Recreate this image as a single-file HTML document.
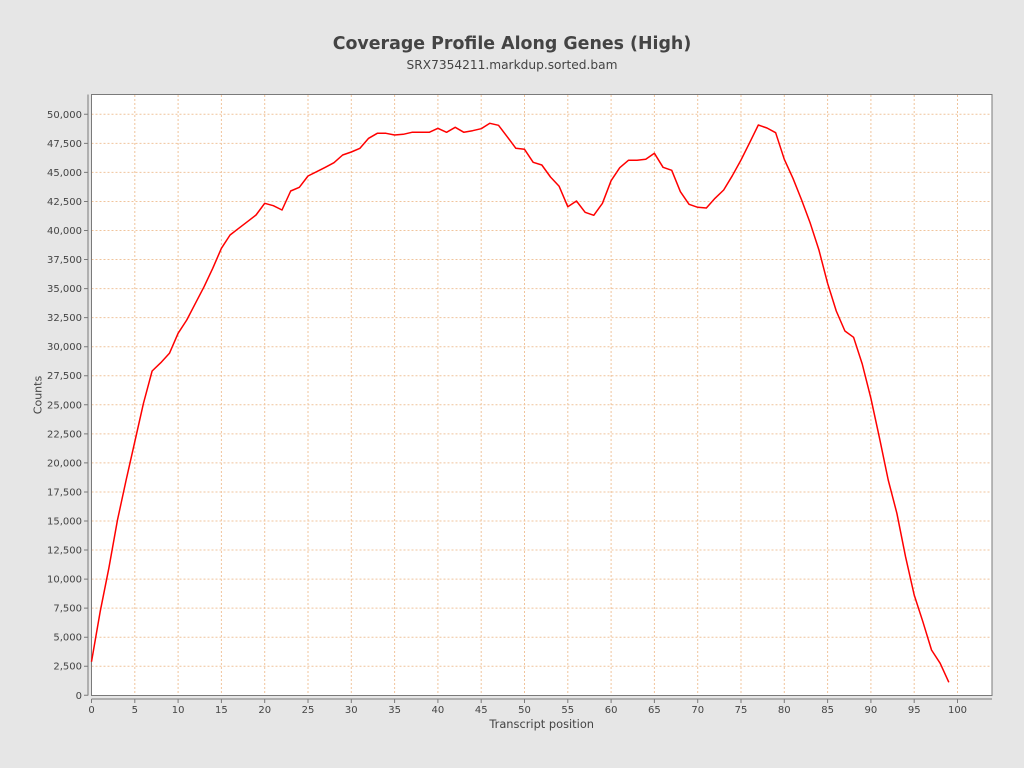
<!DOCTYPE html>
<html><head><meta charset="utf-8"><style>
html,body{margin:0;padding:0;background:#e6e6e6;}
svg{display:block;font-family:"DejaVu Sans","Liberation Sans",sans-serif;}
</style></head><body>
<svg width="1024" height="768" viewBox="0 0 1024 768" xmlns="http://www.w3.org/2000/svg">
<rect x="0" y="0" width="1024" height="768" fill="#e6e6e6"/>
<text x="512" y="49" text-anchor="middle" font-size="17.4" font-weight="bold" fill="#444">Coverage Profile Along Genes (High)</text>
<text x="512" y="69" text-anchor="middle" font-size="12.2" fill="#444">SRX7354211.markdup.sorted.bam</text>
<rect x="91.5" y="94.5" width="900.5" height="601" fill="#ffffff"/>
<g stroke="#f0c49c" stroke-width="1" stroke-dasharray="2,2" fill="none">
<path d="M91.5 666.25H992M91.5 637.2H992M91.5 608.15H992M91.5 579.1H992M91.5 550.05H992M91.5 521H992M91.5 491.95H992M91.5 462.9H992M91.5 433.85H992M91.5 404.8H992M91.5 375.75H992M91.5 346.7H992M91.5 317.65H992M91.5 288.6H992M91.5 259.55H992M91.5 230.5H992M91.5 201.45H992M91.5 172.4H992M91.5 143.35H992M91.5 114.3H992"/>
<path d="M134.8 95V695M178.1 95V695M221.4 95V695M264.7 95V695M308 95V695M351.3 95V695M394.6 95V695M437.9 95V695M481.2 95V695M524.5 95V695M567.8 95V695M611.1 95V695M654.4 95V695M697.7 95V695M741 95V695M784.3 95V695M827.6 95V695M870.9 95V695M914.2 95V695M957.5 95V695"/>
</g>
<rect x="91.5" y="94.5" width="900.5" height="601" fill="none" stroke="#7a7a7a" stroke-width="1"/>
<g stroke="#7a7a7a" stroke-width="1">
<line x1="88" y1="94.5" x2="88" y2="695.5"/>
<line x1="91.5" y1="699" x2="992" y2="699"/>
</g>
<g stroke="#7a7a7a" stroke-width="1">
<path d="M84 695.3H88M84 666.25H88M84 637.2H88M84 608.15H88M84 579.1H88M84 550.05H88M84 521H88M84 491.95H88M84 462.9H88M84 433.85H88M84 404.8H88M84 375.75H88M84 346.7H88M84 317.65H88M84 288.6H88M84 259.55H88M84 230.5H88M84 201.45H88M84 172.4H88M84 143.35H88M84 114.3H88"/>
<path d="M91.5 699V703M134.8 699V703M178.1 699V703M221.4 699V703M264.7 699V703M308 699V703M351.3 699V703M394.6 699V703M437.9 699V703M481.2 699V703M524.5 699V703M567.8 699V703M611.1 699V703M654.4 699V703M697.7 699V703M741 699V703M784.3 699V703M827.6 699V703M870.9 699V703M914.2 699V703M957.5 699V703"/>
</g>
<g font-size="10" fill="#444" text-anchor="end">
<text x="82" y="698.8">0</text>
<text x="82" y="669.7">2,500</text>
<text x="82" y="640.7">5,000</text>
<text x="82" y="611.6">7,500</text>
<text x="82" y="582.6">10,000</text>
<text x="82" y="553.5">12,500</text>
<text x="82" y="524.5">15,000</text>
<text x="82" y="495.4">17,500</text>
<text x="82" y="466.4">20,000</text>
<text x="82" y="437.3">22,500</text>
<text x="82" y="408.3">25,000</text>
<text x="82" y="379.2">27,500</text>
<text x="82" y="350.2">30,000</text>
<text x="82" y="321.1">32,500</text>
<text x="82" y="292.1">35,000</text>
<text x="82" y="263">37,500</text>
<text x="82" y="234">40,000</text>
<text x="82" y="204.9">42,500</text>
<text x="82" y="175.9">45,000</text>
<text x="82" y="146.8">47,500</text>
<text x="82" y="117.8">50,000</text>
</g>
<g font-size="10" fill="#444" text-anchor="middle">
<text x="91.5" y="713">0</text>
<text x="134.8" y="713">5</text>
<text x="178.1" y="713">10</text>
<text x="221.4" y="713">15</text>
<text x="264.7" y="713">20</text>
<text x="308" y="713">25</text>
<text x="351.3" y="713">30</text>
<text x="394.6" y="713">35</text>
<text x="437.9" y="713">40</text>
<text x="481.2" y="713">45</text>
<text x="524.5" y="713">50</text>
<text x="567.8" y="713">55</text>
<text x="611.1" y="713">60</text>
<text x="654.4" y="713">65</text>
<text x="697.7" y="713">70</text>
<text x="741" y="713">75</text>
<text x="784.3" y="713">80</text>
<text x="827.6" y="713">85</text>
<text x="870.9" y="713">90</text>
<text x="914.2" y="713">95</text>
<text x="957.5" y="713">100</text>
</g>
<text x="541.7" y="728" text-anchor="middle" font-size="11.4" fill="#444">Transcript position</text>
<text transform="translate(41.5,395) rotate(-90)" text-anchor="middle" font-size="11" fill="#444">Counts</text>
<polyline fill="none" stroke="#ff0000" stroke-width="1.5" stroke-linejoin="round" points="91.5,661.7 100.16,611.7 108.82,568.3 117.48,520 126.14,480 134.8,441.7 143.46,403.3 152.12,371 160.78,362.7 169.44,353.3 178.1,333.3 186.76,320 195.42,303.3 204.08,286.7 212.74,268.3 221.4,248.3 230.06,235 238.72,228.3 247.38,221.7 256.04,215 264.7,203.3 273.36,205.7 282.02,210 290.68,191 299.34,187.3 308,176 316.66,171.7 325.32,167.3 333.98,162.7 342.64,155 351.3,152 359.96,148.3 368.62,138.3 377.28,133.3 385.94,133.3 394.6,135 403.26,134.3 411.92,132.3 420.58,132.3 429.24,132.3 437.9,128.3 446.56,132.3 455.22,127.3 463.88,132.3 472.54,130.7 481.2,128.7 489.86,123.3 498.52,125.3 507.18,136.7 515.84,148.3 524.5,149.3 533.16,162.3 541.82,165 550.48,177 559.14,186.3 567.8,206.7 576.46,201 585.12,212.3 593.78,215.3 602.44,203.3 611.1,180.7 619.76,167.7 628.42,160.3 637.08,160.3 645.74,159.3 654.4,153.3 663.06,167.3 671.72,170.3 680.38,191.7 689.04,204.3 697.7,207.3 706.36,208 715.02,198.3 723.68,190 732.34,175.7 741,160 749.66,142.7 758.32,125 766.98,128 775.64,132.7 784.3,159.3 792.96,178.3 801.62,200 810.28,223.3 818.94,250 827.6,283.3 836.26,311 844.92,331 853.58,337.3 862.24,364 870.9,398.3 879.56,438.3 888.22,480 896.88,513.3 905.54,556.7 914.2,595 922.86,621.7 931.52,650 940.18,663.3 948.84,682.3"/>
</svg>
</body></html>
